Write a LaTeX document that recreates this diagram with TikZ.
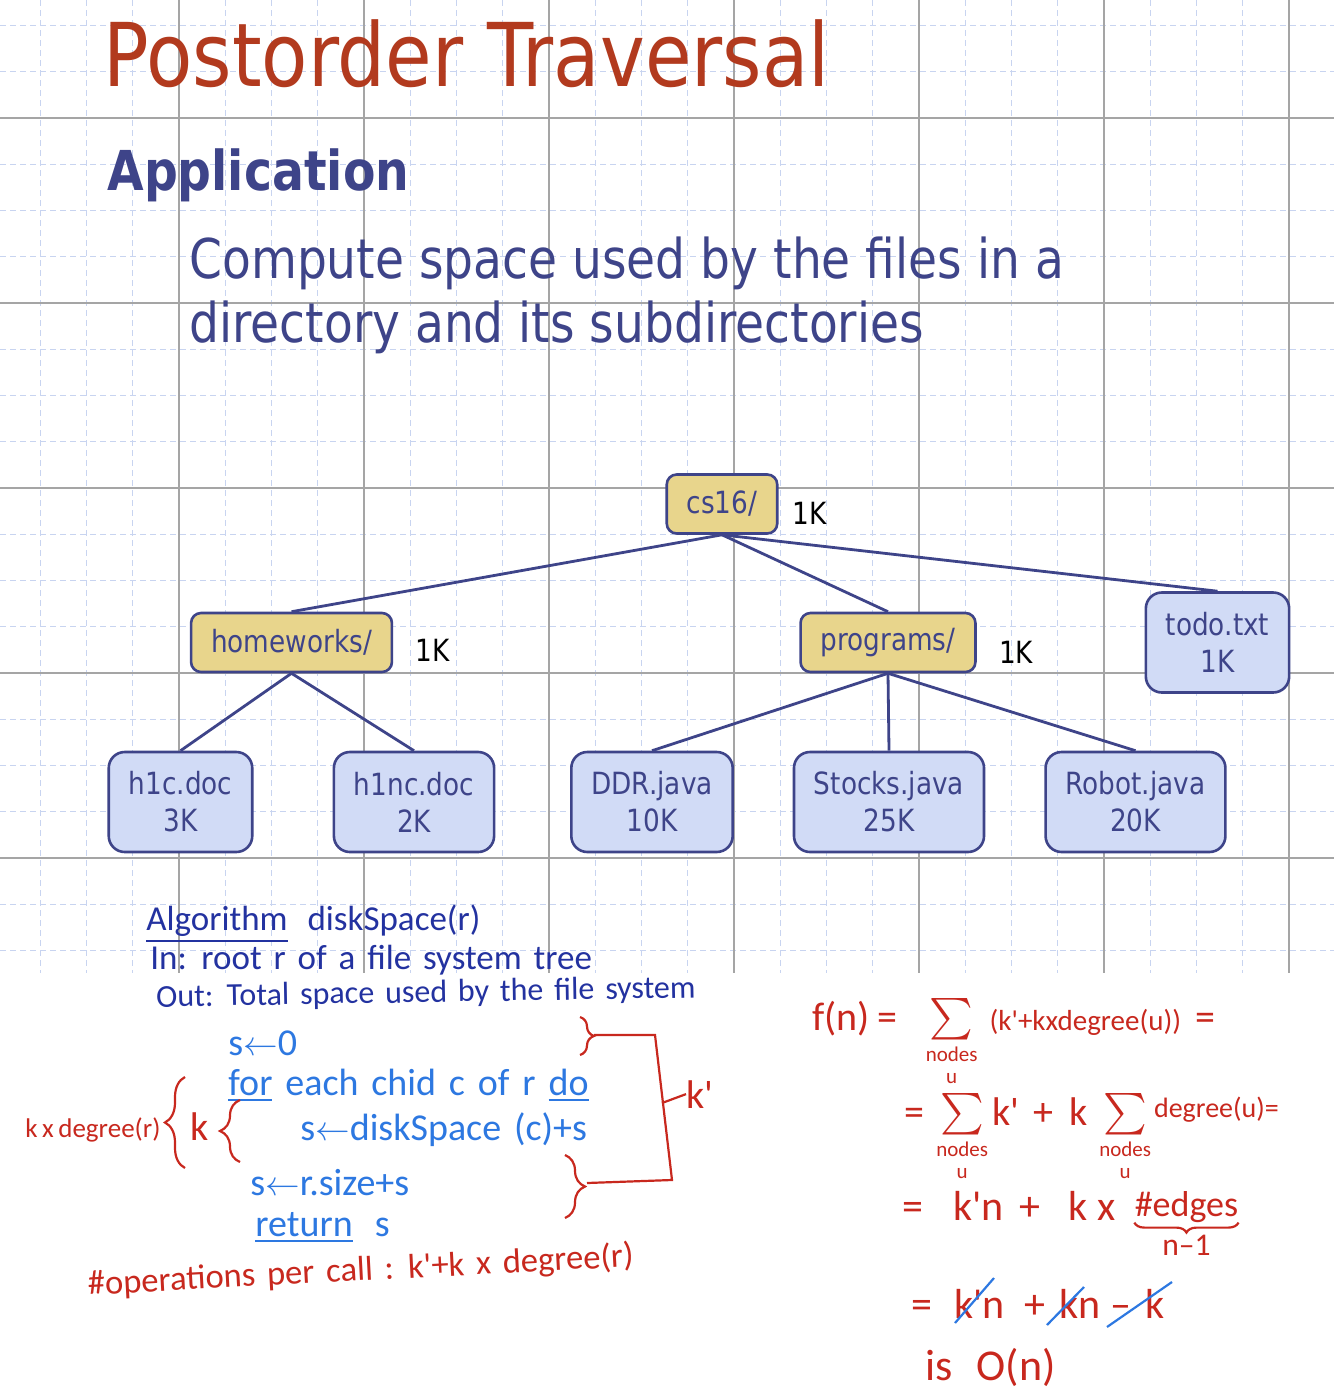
\documentclass[tikz,border=0pt]{standalone}
\usepackage{fontspec}
\usepackage{amsmath}
\setmainfont{DejaVu Sans}[FakeStretch=0.86]
\newfontfamily\handfont{Carlito}[WordSpace=2]
\newfontfamily\penfont{Carlito}[WordSpace=1.5]
\usetikzlibrary{positioning, decorations.pathreplacing}
\definecolor{titlered}{RGB}{178, 58, 30}
\definecolor{slidenavy}{RGB}{62, 68, 137}
\definecolor{dirfill}{RGB}{232, 213, 140}
\definecolor{filefill}{RGB}{209, 219, 246}
\definecolor{gridmajor}{RGB}{165, 165, 165}
\definecolor{gridminor}{RGB}{200, 212, 240}
\definecolor{inknavy}{RGB}{35, 50, 160}
\definecolor{inkblue}{RGB}{45, 120, 225}
\definecolor{inkred}{RGB}{200, 40, 30}
\newcommand{\nodesu}{\mbox{\fontsize{10.5}{10.5}\selectfont\shortstack{nodes\\[2.5pt]u}}}

\begin{document}
\begin{tikzpicture}[
        x=0.5pt, y=-0.5pt,
        majorline/.style={gridmajor, line width=0.8pt},
        minorline/.style={gridminor, line width=0.5pt, dash pattern=on 3pt off 2pt},
        dirbox/.style={draw=slidenavy, fill=dirfill, line width=1.3pt, rounded corners=5pt,
                       minimum height=29.5pt, inner xsep=10pt, text=slidenavy,
                       font=\fontsize{15.3}{18.5}\selectfont},
        filebox/.style={draw=slidenavy, fill=filefill, line width=1.3pt, rounded corners=8pt,
                        minimum height=50pt, inner xsep=10pt, align=center, text=slidenavy,
                        font=\fontsize{15.3}{18.5}\selectfont},
        sizelbl/.style={font=\fontsize{15.3}{18}\selectfont, inner sep=0pt},
        link/.style={slidenavy, line width=1.4pt},
        handtext/.style={anchor=base west, inner sep=0pt, text=inknavy,
                         font=\handfont\fontsize{17.5}{20}\selectfont},
        codetext/.style={anchor=base west, inner sep=0pt, text=inkblue,
                         font=\penfont\fontsize{19}{22}\selectfont},
        redtext/.style={anchor=base west, inner sep=0pt, text=inkred,
                        font=\penfont\fontsize{20}{24}\selectfont},
        pen/.style={inkred, line width=1.1pt},
        curly/.style={pen, decorate, decoration={brace, amplitude=#1}},
        strike/.style={inkblue, line width=1.1pt},
    ]
        \fill[white] (0,0) rectangle (1334,1392);
        \useasboundingbox (0,0) rectangle (1334,1392);

        % grid paper
        \foreach \gx in {40.25,86.5,...,1334} {
            \draw[minorline] (\gx,0) -- (\gx,973);
        }
        \foreach \gy in {25.5,71.75,...,973} {
            \draw[minorline] (0,\gy) -- (1334,\gy);
        }
        \foreach \gx in {179,364,...,1290} {
            \draw[majorline] (\gx,0) -- (\gx,973);
        }
        \foreach \gy in {118,303,...,860} {
            \draw[majorline] (0,\gy) -- (1334,\gy);
        }

        \node[anchor=base west, inner sep=0pt, text=titlered, font=\fontsize{44}{50}\selectfont]
            (title) at (103,86) {Postorder Traversal};
        \node[anchor=base west, inner sep=0pt, text=slidenavy, font=\bfseries\fontsize{27.5}{32}\selectfont]
            (app) at (107,190) {Application};
        \node[anchor=base west, inner sep=0pt, text=slidenavy, font=\fontsize{27.4}{32}\selectfont]
            (task1) at (189,278) {Compute space used by the files in a};
        \node[anchor=base west, inner sep=0pt, text=slidenavy, font=\fontsize{27.4}{32}\selectfont]
            (task2) at (189,342) {directory and its subdirectories};

        % file system tree
        \node[dirbox]  (cs16)      at (722,504)     {cs16/};
        \node[dirbox]  (homeworks) at (291.5,642.5) {homeworks/};
        \node[dirbox]  (programs)  at (888,642.5)   {programs/};
        \node[filebox] (todo)      at (1217.5,642.5) {todo.txt\\1K};
        \node[filebox] (h1c)       at (180.5,802)   {h1c.doc\\3K};
        \node[filebox] (h1nc)      at (414,802)     {h1nc.doc\\2K};
        \node[filebox] (ddr)       at (652,802)     {DDR.java\\10K};
        \node[filebox] (stocks)    at (889,802)     {Stocks.java\\25K};
        \node[filebox] (robot)     at (1135.5,802)  {Robot.java\\20K};

        \node[sizelbl] (cs16k)      [right=7pt of cs16, yshift=-4.5pt]       {1K};
        \node[sizelbl] (homeworksk) [right=11pt of homeworks, yshift=-4pt]   {1K};
        \node[sizelbl] (programsk)  [right=11pt of programs, yshift=-5pt]    {1K};

        \foreach \a/\b in {cs16/homeworks, cs16/programs, cs16/todo, homeworks/h1c,
                           homeworks/h1nc, programs/ddr, programs/stocks, programs/robot} {
            \draw[link] (\a.south) -- (\b.north);
        }

        % handwritten algorithm
        \node[handtext] (algo)   at (146,930) {\underline{Algorithm}\hspace{4pt} diskSpace(r)};
        \node[handtext] (input)  at (150,969) {In: root r of a file system tree};
        \node[handtext, rotate=1, font=\penfont\fontsize{16}{19}\selectfont]
            (output) at (156,1007) {Out: Total space used by the file system};

        \node[codetext] (init) at (228,1055) {s$\leftarrow$0};
        \node[codetext] (loop) at (228,1095) {\underline{for} each chid c of r \underline{do}};
        \node[codetext] (acc)  at (300,1140) {s$\leftarrow$diskSpace (c)+s};
        \node[codetext] (own)  at (250,1195) {s$\leftarrow$r.size+s};
        \node[codetext] (ret)  at (255,1236) {\underline{return}\hspace{11pt}s};

        % cost annotations
        \node[redtext, font=\penfont\fontsize{13.5}{16}\selectfont] (kdeg) at (25,1137) {k\,x\,degree(r)};
        \node[redtext] (kin) at (190,1140) {k};
        \draw[curly=10pt] (185,1168) -- (185,1077);
        \draw[curly=10pt] (240,1162) -- (240,1100);

        \draw[curly=7pt] (580,1017) -- (580,1055);
        \draw[curly=10pt] (565,1155) -- (565,1218);
        \draw[pen] (594,1035) -- (655,1035) -- (672,1180) -- (587,1183);
        \coordinate (tick) at (662,1103);
        \node[redtext] (kprime) at (686,1108) {k'};
        \draw[pen] (tick) -- (kprime.west);

        \node[redtext, rotate=3, font=\penfont\fontsize{17.3}{21}\selectfont]
            (ops) at (88,1295) {\#operations per call : k'+k x degree(r)};

        % running time
        \node[redtext] (sum1) at (812,1030)
            {f(n)\hspace{4pt}=\hspace{14pt}$\sum\limits_{\nodesu}$\hspace{6pt}{\fontsize{14.5}{17}\selectfont(k'+kxdegree(u))}\hspace{7pt}=};
        \node[redtext] (sum2) at (904,1125)
            {=\hspace{6pt}$\sum\limits_{\nodesu}$\hspace{2pt}k'\hspace{7pt}+\hspace{8pt}k\hspace{6pt}$\sum\limits_{\nodesu}$\hspace{1.5pt}\raisebox{4pt}{\fontsize{14}{17}\selectfont degree(u)=}};
        \node[redtext, font=\penfont\fontsize{21}{24}\selectfont] (sum3) at (902,1220)
            {=\hspace{15pt}k'n\hspace{8pt}+\hspace{14pt}k\hspace{5pt}x};
        \node[redtext, font=\penfont\fontsize{18}{21}\selectfont] (edges) [base right=9pt of sum3, yshift=2pt] {\#edges};
        \draw[pen, decorate, decoration={brace, mirror, amplitude=5pt}]
            (edges.south west) -- (edges.south east);
        \node[redtext, anchor=north, font=\penfont\fontsize{15.8}{19}\selectfont] (nminus) [below=6pt of edges] {n–1};
        \node[redtext, font=\penfont\fontsize{21}{24}\selectfont] (sum4) at (911,1318)
            {=\hspace{11pt}k'n\hspace{10pt}+\hspace{7pt}kn\hspace{5pt}–\hspace{7pt}k};
        \node[redtext, font=\penfont\fontsize{22}{26}\selectfont] (bigo) at (925,1380) {is\hspace{12pt}O(n)};

        \draw[strike] (955,1323) -- (994,1278);
        \draw[strike] (1047,1325) -- (1084,1287);
        \draw[strike] (1107,1327) -- (1172,1282);
    \end{tikzpicture}
\end{document}
